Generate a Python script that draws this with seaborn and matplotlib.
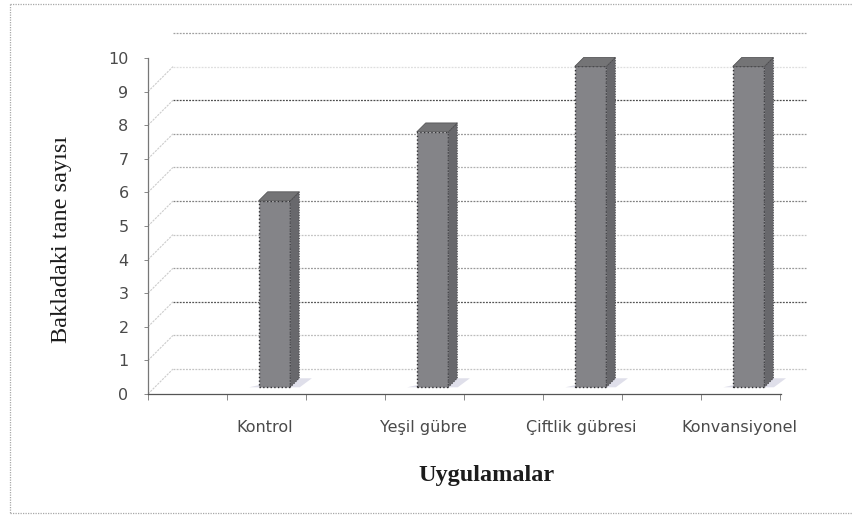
import matplotlib
matplotlib.use('Agg')
import matplotlib.pyplot as plt
import matplotlib.transforms as mtrans
from matplotlib.lines import Line2D
from matplotlib.patches import Polygon
import pandas as pd
import seaborn as sns

# Veriler
uygulamalar = ['Kontrol', 'Yeşil gübre', 'Çiftlik gübresi', 'Konvansiyonel']
tane_sayisi = [5.55, 7.6, 9.55, 9.55]
y_ticks = [0, 1, 2, 3, 4, 5, 6, 7, 8, 9, 10]

# izgara cizgisi renkleri, 0 dan 10 a
grid_renk = ['#c4c4c4', '#bcbcbc', '#555555', '#9a9a9a', '#c4c4c4', '#808080',
             '#b0b0b0', '#999999', '#4c4c4c', '#dedede', '#a0a0a0']

W, H = 853, 515
sns.set_style('white')
plt.rcParams['font.family'] = ['DejaVu Sans']

fig = plt.figure(figsize=(W / 100, H / 100), dpi=100)
ax = fig.add_axes([148 / W, 1 - 394 / H, 633 / W, 336 / H])

df = pd.DataFrame({'uygulama': uygulamalar, 'tane': tane_sayisi})
sns.barplot(data=df, x='uygulama', y='tane', color='#848488', width=0.2, saturation=1,
            bottom=0.2, edgecolor='#2e2e32', linewidth=1.0, linestyle=':', zorder=3, ax=ax)

x_sol, x_sag = -0.80, 3.205
ax.set_xlim(x_sol, x_sag)
ax.set_ylim(0, 10)

# arka duvar, 3B gorunumu icin 25 px kaydirilmis
kay = mtrans.Affine2D().translate(25, 25)
arka = ax.transData + kay
for v, c in zip(y_ticks, grid_renk):
    ax.plot([x_sol, x_sag], [v, v], transform=arka, color=c, lw=0.9, ls=(0, (1.5, 1)),
            clip_on=False, zorder=1)
    # sol kenar capraz cizgi
    x0, y0 = ax.transData.transform((x_sol, v))
    ax.add_line(Line2D([x0, x0 + 25], [y0, y0 + 25], transform=None, color='#cccccc',
                       lw=0.8, ls=(0, (2, 1)), zorder=1))

# sag alt kosegen
x0, y0 = ax.transData.transform((x_sag, 0))
ax.add_line(Line2D([x0, x0 + 25], [y0, y0 + 25], transform=None, color='#c4c4c4',
                   lw=0.8, ls=(0, (2, 1)), zorder=1))

# cubuklarin yan ve ust yuzleri
dx, dy = 9 / 158, 9 / 33.6
for p in ax.patches[:len(uygulamalar)]:
    x, w = p.get_x(), p.get_width()
    b, t = p.get_y(), p.get_y() + p.get_height()
    ax.add_patch(Polygon([(x + w, b), (x + w + dx, b + dy), (x + w + dx, t + dy), (x + w, t)],
                         fc='#68686c', ec='#3c3c40', lw=0.7, ls=':', zorder=3, clip_on=False))
    ax.add_patch(Polygon([(x, t), (x + dx, t + dy), (x + w + dx, t + dy), (x + w, t)],
                         fc='#747476', ec='#4a4a4c', lw=0.5, zorder=3, clip_on=False))
    # zemindeki golge
    ax.add_patch(Polygon([(x - 0.06, b), (x + w + 0.06, b), (x + w + 2.4 * dx, b + dy),
                          (x + w, b + dy)], fc='#dfdfea', ec='none', zorder=2, clip_on=False))

# eksenler
sns.despine(ax=ax, top=True, right=True)
ax.spines['left'].set_color('#777777')
ax.spines['bottom'].set_color('#555555')
for s in ['left', 'bottom']:
    ax.spines[s].set_linewidth(0.9)
    ax.spines[s].set_linestyle((0, (1, 1)))

ax.set_yticks(y_ticks)
ax.tick_params(axis='y', labelsize=11.5, labelcolor='#4a4a4a', length=3, width=0.7,
               color='#888888', left=True, pad=11)
ax.set_xticks([i - 0.06 for i in range(len(uygulamalar))], uygulamalar)
ax.tick_params(axis='x', which='major', labelsize=11.5, labelcolor='#4a4a4a', length=0, pad=19)
ax.set_xticks([x_sol + 0.5 * i for i in range(9)], minor=True)
ax.tick_params(axis='x', which='minor', length=4, width=0.7, color='#888888', bottom=True)

ax.set_xlabel('Uygulamalar', family='Liberation Serif', fontsize=17.5, fontweight='bold',
              color='#1c1c1c', labelpad=0)
ax.xaxis.set_label_coords((486 - 148) / 633, -(476 - 394) / 336)
ax.xaxis.label.set_va('center')
ax.set_ylabel('Bakladaki tane sayısı', family='Liberation Serif', fontsize=17.5,
              color='#1c1c1c')
ax.yaxis.set_label_coords((62 - 148) / 633, (394 - 239) / 336)
ax.yaxis.label.set_va('center')

# dis cerceve
for xs, ys in [([10, 853], [4, 4]), ([10, 10], [4, 513]), ([10, 853], [513, 513])]:
    fig.add_artist(Line2D([a / W for a in xs], [1 - b / H for b in ys], color='#a8a8a8',
                          lw=0.9, ls=(0, (1, 1))))

fig.savefig('out.png', dpi=100)
